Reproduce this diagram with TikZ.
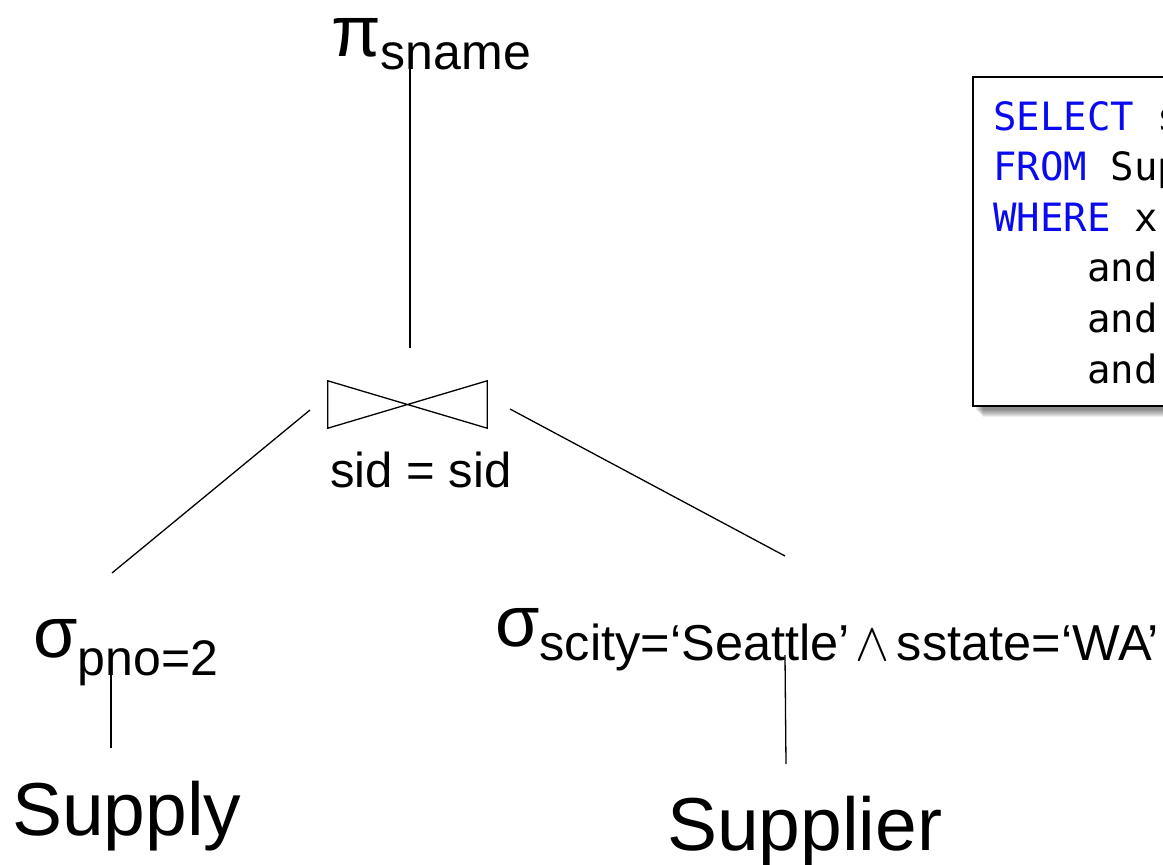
\documentclass[tikz,border=0pt]{standalone}
\usepackage{fontspec}
\setmainfont{Liberation Sans}
\newfontfamily\codefont{DejaVu Sans Mono}
\definecolor{kw}{RGB}{10,10,240}
\tikzset{
  op/.style={inner sep=0pt, anchor=base west},
  rel/.style={inner sep=0pt, anchor=base west, font=\fontsize{75}{75}\selectfont},
  edge/.style={line width=1.3pt, black},
  code/.style={inner sep=0pt, anchor=base west, font=\codefont\fontsize{39}{39}\selectfont},
}
\newcommand{\bigsym}[1]{{\fontsize{72}{72}\selectfont #1}}
\newcommand{\subsc}[3][50]{\raisebox{-#2}{\fontsize{#1}{#1}\selectfont #3}}
\newcommand{\andop}{\hspace{6pt}\scalebox{5.1}[5.4]{\fontsize{10}{12}\selectfont$\wedge$}\hspace{7pt}}
\begin{document}
\begin{tikzpicture}[x=1pt,y=-1pt]
\useasboundingbox (0,0) rectangle (1163,865);

% projection
\node[op] (proj) at (331,56) {\bigsym{π}\subsc{13pt}{sname}};

% join operator
\node[inner sep=0pt, minimum width=159pt, minimum height=47pt] (join) at (407.5,404.5) {};
\draw[edge] (join.north west) -- (join.south east) -- (join.north east)
  -- (join.south west) -- cycle;
\node[inner sep=0pt, anchor=base, font=\fontsize{49}{49}\selectfont] (cond) at (421,487) {sid = sid};

% selections
\node[op] (selL) at (33,657) {\bigsym{σ}\subsc{18pt}{pno=2}};
\node[op] (selR) at (495,646) {\bigsym{σ}\subsc[50.5]{14pt}{scity=‘Seattle’\andop sstate=‘WA’}};

% base relations
\node[rel] (supply) at (12,835) {Supply};
\node[rel] (supplier) at (667,850) {Supplier};

% connector end points
\coordinate (p1) at (410,63);   \coordinate (j0) at (410,348);
\coordinate (j1) at (310,410);  \coordinate (l0) at (112,573);
\coordinate (j2) at (510,409);  \coordinate (r0) at (785,556);
\coordinate (l1) at (111,673);  \coordinate (l2) at (111,748);
\coordinate (r1) at (785,655);  \coordinate (r2) at (786,764);

\draw[edge] (p1) -- (j0);
\draw[edge] (j1) -- (l0);
\draw[edge] (j2) -- (r0);
\draw[edge] (l1) -- (l2);
\draw[edge] (r1) -- (r2);

% SQL query box, running off the right edge
\begin{scope}
\clip (0,0) rectangle (1163,865);
\foreach \k in {1,...,8}
  \fill[black, opacity=0.07] (973+\k+2,77+\k+3) rectangle (1250,406+\k+3);
\fill[white] (973,77) rectangle (1250,406);
\draw[line width=2pt] (973,77) rectangle (1250,406);
\node[code] (q1) at (993,130) {\textcolor{kw}{SELECT} s};
\node[code] (q2) at (993,180.6) {\textcolor{kw}{FROM} Sup};
\node[code] (q3) at (993,231.2) {\textcolor{kw}{WHERE} x};
\node[code] (q4) at (993,281.8) {\phantom{WHER}and};
\node[code] (q5) at (993,332.4) {\phantom{WHER}and};
\node[code] (q6) at (993,383) {\phantom{WHER}and};
\end{scope}
\end{tikzpicture}
\end{document}
